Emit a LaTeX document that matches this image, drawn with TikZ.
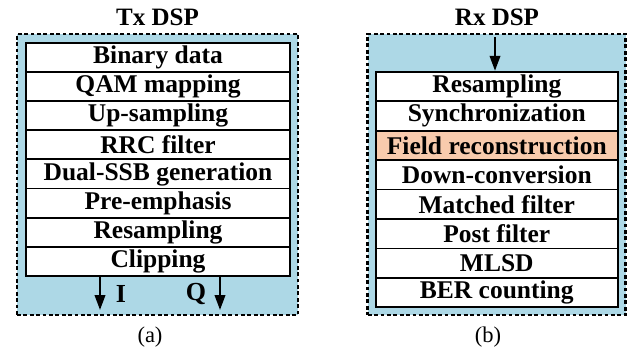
\documentclass[tikz,border=0pt]{standalone}
\usepackage{fontspec}
\setmainfont{Liberation Serif}
\usetikzlibrary{arrows.meta}
\definecolor{panelblue}{HTML}{ADD8E6}
\definecolor{peach}{HTML}{F8CBAD}
\tikzset{
  panel/.style={draw=black, fill=panelblue, line width=2.8pt,
    dash pattern=on 3.8pt off 2.6pt, rectangle, inner sep=0pt},
  stage/.style={draw=black, fill=white, line width=1.8pt, rectangle,
    inner sep=0pt, font=\fontsize{25.5}{27}\selectfont\bfseries},
  title/.style={font=\fontsize{25}{27}\selectfont\bfseries},
  sub/.style={font=\fontsize{22.5}{24}\selectfont},
  iq/.style={font=\fontsize{26}{28}\selectfont\bfseries},
  flow/.style={line width=2.2pt, -{Triangle[length=15pt,width=10.5pt]}}
}
\begin{document}
\begin{tikzpicture}[x=1pt, y=-1pt]
\useasboundingbox (0,0) rectangle (631,351);

% Tx DSP panel
\node[panel, minimum width=281pt, minimum height=281pt] (txbox) at (157.5,174.5) {};
\node[title] (txtitle) at (157.5,17) {Tx DSP};
\foreach \name/\txt [count=\i from 0] in {
  bin/Binary data, qam/QAM mapping, ups/Up-sampling, rrc/RRC filter,
  ssb/Dual-SSB generation, pre/Pre-emphasis, rsa/Resampling, clip/Clipping}
  \node[stage, minimum width=264pt, minimum height=29.17pt] (\name)
    at (158,{42.7+29.17*(\i+0.5)}) {\txt};
\coordinate (iend) at (100,310);
\coordinate (qend) at (220,310);
\draw[flow] (clip.south -| iend) -- (iend);
\draw[flow] (clip.south -| qend) -- (qend);
\node[iq] (ilab) at (121,294) {I};
\node[iq] (qlab) at (196,294) {Q};
\node[sub] (capa) at (150,337) {(a)};

% Rx DSP panel
\node[panel, minimum width=258pt, minimum height=281pt] (rxbox) at (496.7,174.5) {};
\node[title] (rxtitle) at (497,17) {Rx DSP};
\foreach \name/\txt/\col [count=\i from 0] in {
  rrs/Resampling/white, syn/Synchronization/white,
  fld/Field reconstruction/peach, dwn/Down-conversion/white,
  mf/Matched filter/white, pf/Post filter/white, mlsd/MLSD/white,
  ber/BER counting/white}
  \node[stage, fill=\col, minimum width=241.7pt, minimum height=29.45pt] (\name)
    at (496.8,{71.7+29.45*(\i+0.5)}) {\txt};
\coordinate (rxin) at (495,37);
\draw[flow] (rxin) -- (rxin |- rrs.north);
\node[sub] (capb) at (488,337) {(b)};
\end{tikzpicture}
\end{document}
